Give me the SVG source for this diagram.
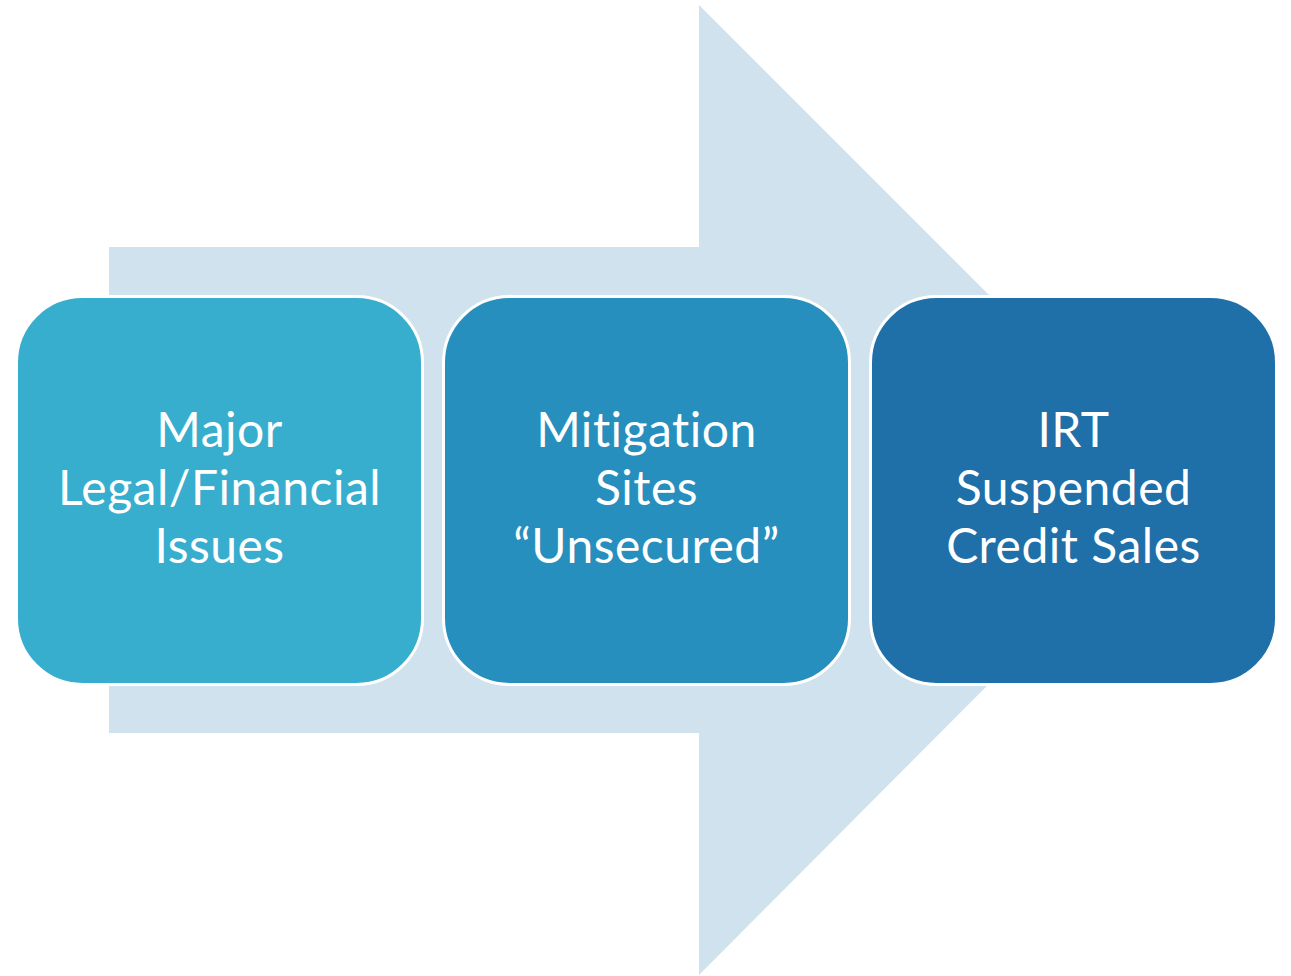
<svg xmlns="http://www.w3.org/2000/svg" width="1291" height="976" viewBox="0 0 1291 976">
<style>
.box{stroke:#fff;stroke-width:3}
.t{font-family:Lato,"Open Sans","Liberation Sans",sans-serif;font-size:48px;letter-spacing:0.5px;font-variant-ligatures:none;fill:#fff;text-anchor:middle}
</style>
<rect width="1291" height="976" fill="#fff"/>
<g id="arrow">
<polygon points="109,247 699,247 699,5 1183,489 699,975 699,733 109,733" fill="#CFE2EE"/>
</g>
<g id="connectors"></g>
<g id="node1">
<rect class="box" x="16.5" y="296.5" width="406" height="388" rx="66" fill="#37AECE"/>
<text class="t" x="219.5" y="447">Major</text>
<text class="t" x="219.5" y="505">Legal/Financial</text>
<text class="t" x="219.5" y="563">Issues</text>
</g>
<g id="node2">
<rect class="box" x="443.5" y="296.5" width="406" height="388" rx="66" fill="#268FBD"/>
<text class="t" x="646.5" y="447">Mitigation</text>
<text class="t" x="646.5" y="505">Sites</text>
<text class="t" x="646.5" y="563">“Unsecured”</text>
</g>
<g id="node3">
<rect class="box" x="870.5" y="296.5" width="406" height="388" rx="66" fill="#1F6FA9"/>
<text class="t" x="1073.5" y="447">IRT</text>
<text class="t" x="1073.5" y="505">Suspended</text>
<text class="t" x="1073.5" y="563">Credit Sales</text>
</g>
</svg>
